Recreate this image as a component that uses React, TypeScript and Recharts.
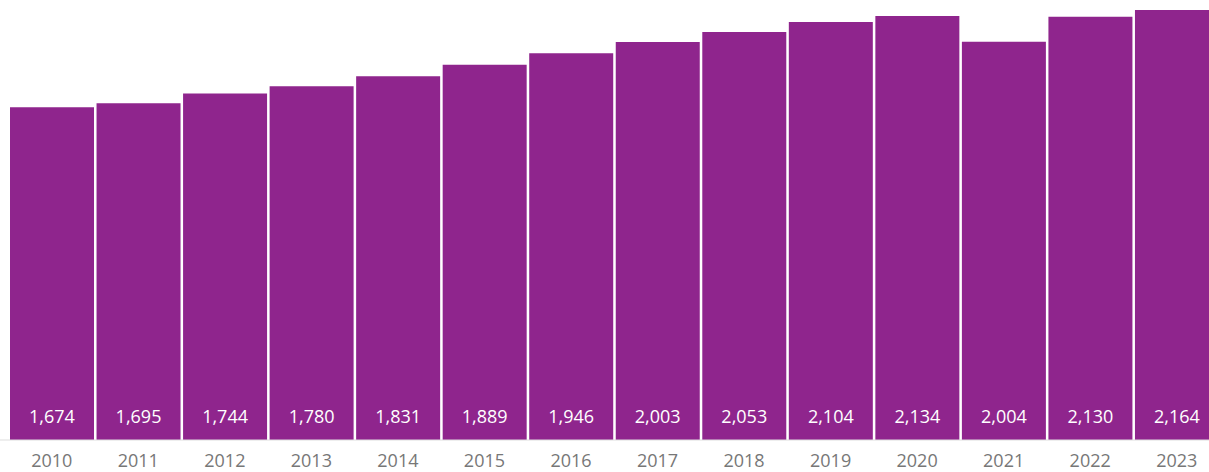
import React from 'react';
import { BarChart, Bar, XAxis, YAxis, LabelList } from 'recharts';

const years = ['2010', '2011', '2012', '2013', '2014', '2015', '2016', '2017', '2018', '2019', '2020', '2021', '2022', '2023'];
const values = [1674, 1695, 1744, 1780, 1831, 1889, 1946, 2003, 2053, 2104, 2134, 2004, 2130, 2164];

const data = years.map((year, i) => ({ year, value: values[i] }));

const FONT = '"Open Sans", "Noto Sans", sans-serif';

const App: React.FC = () => {
  return (
    <div style={{ position: 'absolute', left: 0, top: 0, width: 1209, height: 472, overflow: 'hidden', background: '#fff' }}>
      <BarChart
        width={1220}
        height={472}
        data={data}
        margin={{ top: 10, right: 0, bottom: 0, left: 0 }}
        barCategoryGap={1.5}
      >
        <XAxis
          dataKey="year"
          height={32}
          padding={{ left: 8.5, right: 0 }}
          axisLine={{ stroke: '#dddddd' }}
          tickLine={false}
          tickSize={0}
          tickMargin={14}
          interval={0}
          tick={{ fill: '#777777', fontSize: 18, fontFamily: FONT }}
        />
        <YAxis hide domain={[0, 2164]} />
        <Bar dataKey="value" fill="#8F258D" isAnimationActive={false}>
          <LabelList
            dataKey="value"
            position="insideBottom"
            offset={17}
            fill="#ffffff"
            fontSize={18}
            fontFamily={FONT}
            formatter={(v: number) => v.toLocaleString('en-US')}
          />
        </Bar>
      </BarChart>
    </div>
  );
};

export default App;
